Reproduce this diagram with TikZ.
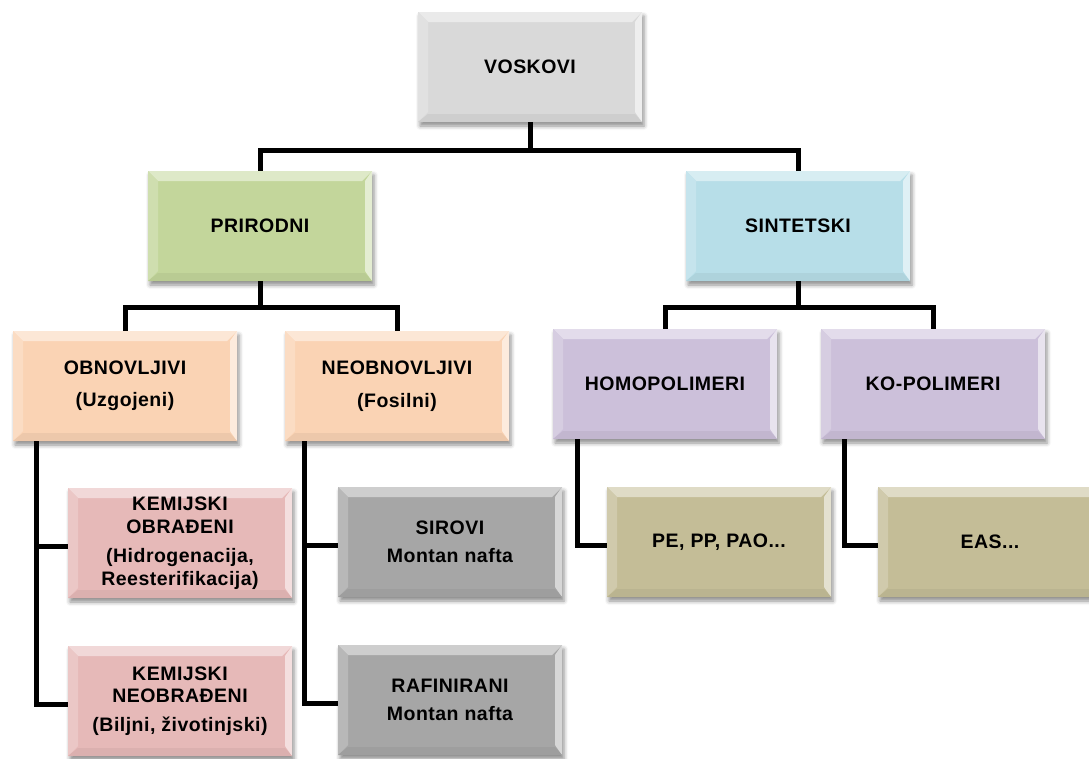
\documentclass[tikz,border=0pt]{standalone}
\usepackage{fontspec}
\setmainfont{Liberation Sans}[LetterSpace=2.5]
\usetikzlibrary{calc,shadows.blur}
\definecolor{cvos}{HTML}{D9D9D9}
\definecolor{cpri}{HTML}{C3D69B}
\definecolor{csin}{HTML}{B7DEE8}
\definecolor{cobn}{HTML}{FAD3B4}
\definecolor{cpol}{HTML}{CCC0DA}
\definecolor{ckem}{HTML}{E6B9B8}
\definecolor{csir}{HTML}{A6A6A6}
\definecolor{cpe}{HTML}{C4BD97}
\tikzset{
  bevel/.style={path picture={
    \fill[#1!55!white] let \p1=(path picture bounding box.south west), \p2=(path picture bounding box.north east) in
      (\x1,\y2) -- (\x2,\y2) -- (\x2-10pt,\y2-10pt) -- (\x1+10pt,\y2-10pt) -- cycle;
    \fill[#1!80!white] let \p1=(path picture bounding box.south west), \p2=(path picture bounding box.north east) in
      (\x1,\y1) -- (\x1,\y2) -- (\x1+10pt,\y2-10pt) -- (\x1+10pt,\y1+10pt) -- cycle;
    \fill[#1!45!white] let \p1=(path picture bounding box.south west), \p2=(path picture bounding box.north east) in
      (\x2,\y1) -- (\x2,\y2) -- (\x2-7pt,\y2-10pt) -- (\x2-7pt,\y1+10pt) -- cycle;
    \fill[#1!95!black] let \p1=(path picture bounding box.south west), \p2=(path picture bounding box.north east) in
      (\x1,\y1) -- (\x2,\y1) -- (\x2-7pt,\y1+8pt) -- (\x1+10pt,\y1+8pt) -- cycle;
  }},
  wbox/.style={minimum width=224pt, minimum height=110pt, inner sep=0pt,
    fill=#1, bevel=#1, align=center,
    blur shadow={shadow xshift=2pt, shadow yshift=-4pt, shadow blur radius=4pt, shadow opacity=45},
    font=\fontsize{19.5pt}{22.5pt}\selectfont\bfseries},
  conn/.style={line width=5pt, black, line join=miter}
}
\begin{document}
\begin{tikzpicture}[x=1pt,y=-1pt]
\useasboundingbox (0,0) rectangle (1089,758);
\node[wbox=cvos] (vos) at (530,67) {VOSKOVI};
\node[wbox=cpri] (pri) at (260,226) {PRIRODNI};
\node[wbox=csin] (sin) at (798,226) {SINTETSKI};
\node[wbox=cobn] (obn) at (125,386) {OBNOVLJIVI\\[10pt](Uzgojeni)};
\node[wbox=cobn] (neo) at (397,386) {NEOBNOVLJIVI\\[10pt](Fosilni)};
\node[wbox=cpol] (hom) at (665,384) {HOMOPOLIMERI};
\node[wbox=cpol] (kop) at (933,384) {KO-POLIMERI};
\node[wbox=ckem] (kob) at (180,543) {KEMIJSKI\\OBRAĐENI\\[7pt](Hidrogenacija,\\Reesterifikacija)};
\node[wbox=ckem] (kne) at (180,701) {KEMIJSKI\\NEOBRAĐENI\\[6pt](Biljni, životinjski)};
\node[wbox=csir] (sir) at (450,542) {SIROVI\\[5pt]Montan nafta};
\node[wbox=csir] (raf) at (450,700) {RAFINIRANI\\[5pt]Montan nafta};
\node[wbox=cpe] (pe) at (719,542) {PE, PP, PAO...};
\node[wbox=cpe] (eas) at (990,542) {EAS...};
\coordinate (r1) at (0,150);
\coordinate (r2) at (0,307);
\draw[conn] (vos.south) -- (vos.south |- r1) -| (pri.north);
\draw[conn] (vos.south |- r1) -| (sin.north);
\draw[conn] (pri.south) -- (pri.south |- r2) -| (obn.north);
\draw[conn] (pri.south |- r2) -| (neo.north);
\draw[conn] (sin.south) -- (sin.south |- r2) -| (hom.north);
\draw[conn] (sin.south |- r2) -| (kop.north);
\draw[conn] ([xshift=24pt]obn.south west) |- ([yshift=-3pt]kob.west);
\draw[conn] ([xshift=24pt]obn.south west) |- ([yshift=-3pt]kne.west);
\draw[conn] ([xshift=20pt]neo.south west) |- ([yshift=-3pt]sir.west);
\draw[conn] ([xshift=20pt]neo.south west) |- ([yshift=-3pt]raf.west);
\draw[conn] ([xshift=25pt]hom.south west) |- ([yshift=-3pt]pe.west);
\draw[conn] ([xshift=24pt]kop.south west) |- ([yshift=-3pt]eas.west);
\end{tikzpicture}
\end{document}
